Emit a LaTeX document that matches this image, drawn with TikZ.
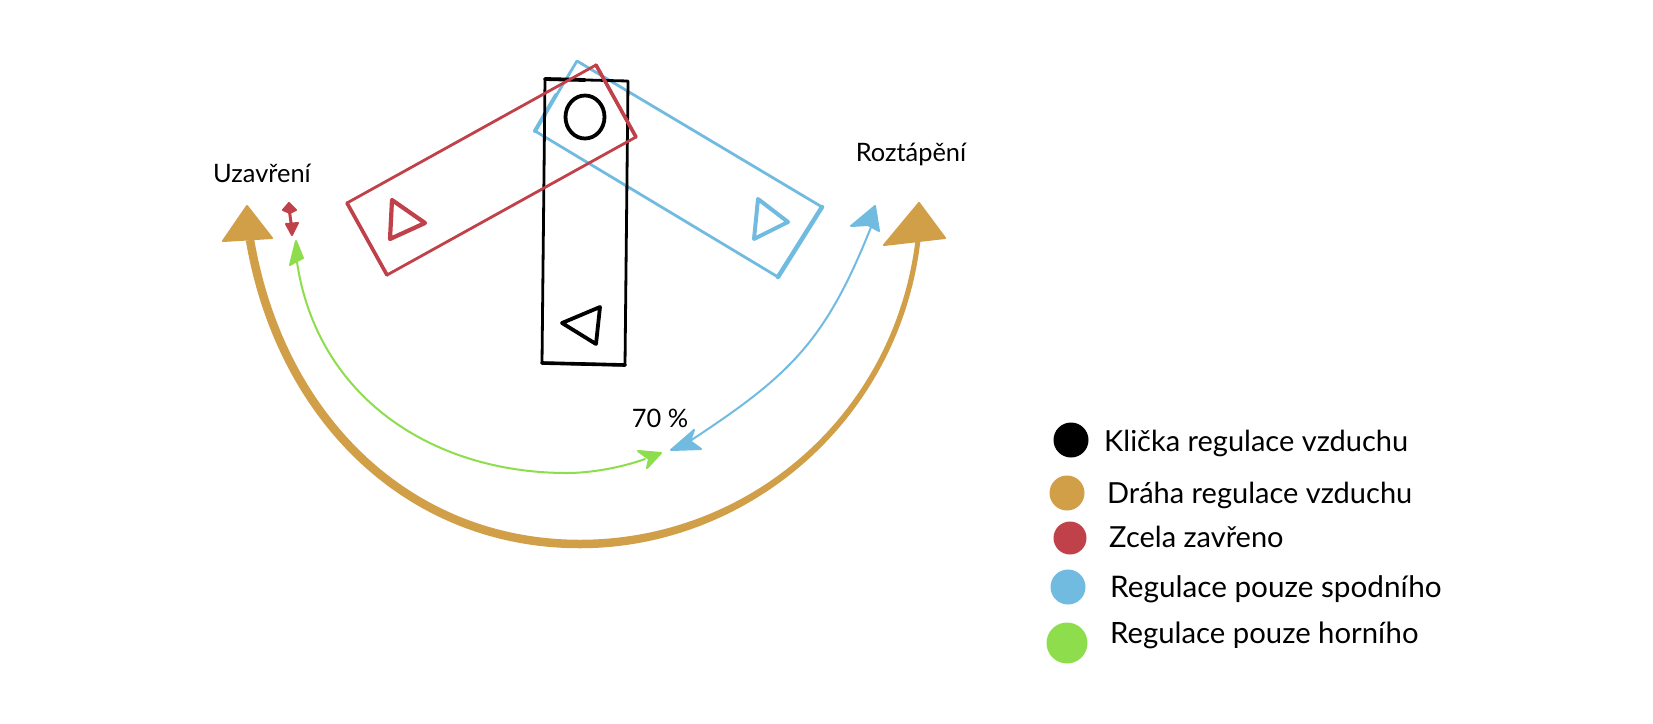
\documentclass[tikz,border=0pt]{standalone}
\usepackage{fontspec}
\setmainfont{Lato}
\definecolor{goldc}{HTML}{D09F47}
\definecolor{redc}{HTML}{C1414A}
\definecolor{bluec}{HTML}{72BBE0}
\definecolor{greenc}{HTML}{8EDD4C}
\tikzset{
  x=1pt,y=-1pt,
  outline/.style={draw=#1,line width=2.8pt,line join=round,line cap=round},
  headfill/.style={fill=#1,draw=#1,line width=2pt,line join=round},
  arc/.style={draw=#1,line width=2pt,line cap=round,line join=round},
  legdot/.style={circle,fill=#1,inner sep=0pt,draw=none},
  legtext/.style={anchor=base west,inner sep=0pt,font=\fontsize{29}{32}\selectfont},
  label/.style={inner sep=0pt,font=\fontsize{25.4}{30}\selectfont},
}
\begin{document}
\begin{tikzpicture}
\useasboundingbox[fill=white] (0,0) rectangle (1653,723);
% arcs
\coordinate (gl) at (250,240);
\coordinate (gm) at (580,544);
\coordinate (gnl) at (297,262);
\coordinate (gnm) at (567,473);
\coordinate (gnr) at (645,459);
\coordinate (blu) at (873,222);
\coordinate (bll) at (690,441);
\coordinate (rt) at (289,208);
\coordinate (rb) at (292,230);
\draw[arc=goldc,line width=8.5pt,line cap=butt] (gl) .. controls (281,420) and (410,544) .. (gm);
\fill[goldc] (580,548.25) .. controls (748,548.25) and (900,420) .. (920.5,240) -- (915.5,240) .. controls (894,416) and (748,539.75) .. (580,539.75) -- cycle;
\draw[arc=greenc] (gnl) .. controls (317,397) and (432,473) .. (gnm) .. controls (590,473) and (620,468) .. (gnr);
\draw[arc=bluec] (blu) .. controls (826,342) and (790,375) .. (bll);
\draw[arc=redc,line width=3pt] (rt) -- (rb);
% arrow heads
\path[headfill=goldc] (247,206) -- (223,241) -- (272,238) -- cycle;
\path[headfill=goldc] (919,203) -- (884,245) -- (945,238) -- cycle;
\path[headfill=greenc] (296,241) -- (290,265) -- (297,261) -- (303,258) -- cycle;
\path[headfill=greenc] (661,453) -- (638,451) -- (649,459) -- (647,468) -- cycle;
\path[headfill=bluec] (875,206) -- (851,226) -- (868,225) -- (879,231) -- cycle;
\path[headfill=bluec] (671,450) -- (694,430) -- (690,441) -- (701,449) -- cycle;
\path[headfill=redc] (289,203) -- (283,210) -- (290,213) -- (296,210) -- cycle;
\path[headfill=redc] (292,235) -- (286,224) -- (298,223) -- cycle;
% blue lever
\draw[outline=bluec] (577,61) -- (822,207) -- (778,277) -- (535,131) -- cycle;
\draw[outline=bluec,line width=4.5pt] (822,207) -- (778,277);
\draw[outline=bluec,line width=4pt] (535,131) -- (556,95);
\draw[outline=bluec,line width=4pt] (758,199) -- (788,222) -- (754,239) -- cycle;
% black lever
\draw[outline=black] (545,79) -- (628,81) -- (625,365) -- (542,363) -- cycle;
\draw[outline=black,line width=3.8pt] (545,79) -- (585,80);
\draw[outline=black,line width=3.6pt] (625,365) -- (542,363);
\draw[black,line width=3.8pt] (585,117) ellipse [x radius=19.5,y radius=21.5];
\draw[outline=black,line width=3.8pt] (562,323) -- (600,307) -- (596,344) -- cycle;
% red lever
\draw[outline=redc] (596,65) -- (636,137) -- (387,275) -- (347,203) -- cycle;
\draw[outline=redc,line width=3.6pt] (596,65) -- (636,137);
\draw[outline=redc,line width=3.6pt] (387,275) -- (347,203);
\draw[outline=redc,line width=4.2pt] (392,200) -- (425,223) -- (390,239) -- cycle;
% labels
\node[label] (uz) at (262,173) {Uzavření};
\node[label] (ro) at (911,154) {Roztápění};
\node[label] (pc) at (660,418) {70 \%};
% legend
\node[legdot=black,minimum size=35pt] (d1) at (1071,440) {};
\node[legdot=goldc,minimum size=35pt] (d2) at (1067,493) {};
\node[legdot=redc,minimum size=33pt] (d3) at (1070,538) {};
\node[legdot=bluec,minimum size=35pt] (d4) at (1068,587) {};
\node[legdot=greenc,minimum size=41pt] (d5) at (1067,643) {};
\node[legtext] (t1) at (1104,451) {Klička regulace vzduchu};
\node[legtext] (t2) at (1107,503) {Dráha regulace vzduchu};
\node[legtext] (t3) at (1109,547) {Zcela zavřeno};
\node[legtext,font=\fontsize{29.7}{32}\selectfont] (t4) at (1110,597) {Regulace pouze spodního};
\node[legtext,font=\fontsize{29.3}{32}\selectfont] (t5) at (1110,643) {Regulace pouze horního};
\end{tikzpicture}
\end{document}
